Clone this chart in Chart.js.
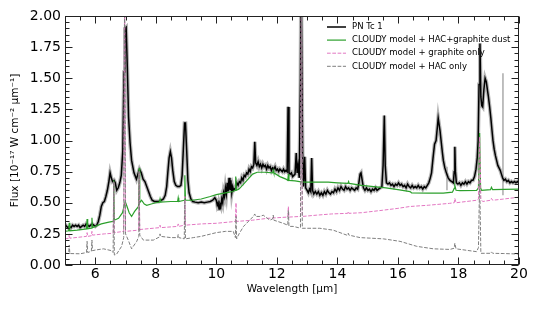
<!DOCTYPE html>
<html><head><meta charset="utf-8">
<script src="https://cdn.jsdelivr.net/npm/chart.js@4.4.0/dist/chart.umd.min.js"></script>
<style>html,body{margin:0;padding:0;background:#fff}</style>
</head><body>
<canvas id="c" width="540" height="309"></canvas>
<script>
// ---- data (wavelength in micron, flux in 1e-17 W cm^-2 micron^-1) ----
const wavelengthTicks = [6, 8, 10, 12, 14, 16, 18, 20];
const fluxTicks = [0, 0.25, 0.5, 0.75, 1.0, 1.25, 1.5, 1.75, 2.0];
const seriesLabels = ['PN Tc 1', 'CLOUDY model + HAC+graphite dust', 'CLOUDY model + graphite only', 'CLOUDY model + HAC only'];

const specTc1 = [
[5.00,0.33],[5.05,0.31],[5.10,0.30],[5.15,0.31],[5.20,0.30],[5.25,0.32],[5.30,0.31],[5.35,0.32],[5.40,0.31],[5.45,0.32],
[5.50,0.30],[5.55,0.31],[5.60,0.32],[5.65,0.31],[5.70,0.33],[5.75,0.32],[5.80,0.31],[5.85,0.32],[5.90,0.33],[5.95,0.32],
[6.00,0.31],[6.05,0.32],[6.10,0.35],[6.15,0.40],[6.20,0.47],[6.25,0.50],[6.30,0.51],[6.35,0.55],[6.40,0.60],[6.45,0.67],
[6.49,0.74],[6.53,0.70],[6.57,0.67],[6.62,0.68],[6.66,0.66],[6.71,0.60],[6.76,0.62],[6.81,0.66],[6.86,0.72],[6.91,0.92],
[6.95,1.55],[6.98,1.90],[7.02,1.91],[7.06,1.58],[7.10,1.19],[7.15,0.98],[7.20,0.84],[7.28,0.74],[7.36,0.69],[7.42,0.74],
[7.46,0.77],[7.52,0.74],[7.58,0.69],[7.64,0.67],[7.70,0.63],[7.76,0.59],[7.82,0.55],[7.88,0.52],[7.95,0.51],[8.02,0.51],
[8.10,0.51],[8.18,0.52],[8.25,0.53],[8.31,0.56],[8.36,0.63],[8.40,0.75],[8.44,0.86],[8.48,0.91],[8.52,0.86],[8.56,0.76],
[8.61,0.67],[8.66,0.64],[8.72,0.63],[8.78,0.63],[8.83,0.64],[8.87,0.72],[8.91,0.93],[8.95,1.14],[8.98,1.14],[9.02,0.92],
[9.06,0.68],[9.10,0.58],[9.16,0.53],[9.22,0.51],[9.30,0.505],[9.40,0.50],[9.50,0.505],[9.60,0.50],[9.70,0.505],[9.80,0.51],
[9.88,0.52],[9.95,0.54],[10.00,0.52],[10.03,0.48],[10.06,0.50],[10.09,0.45],[10.12,0.49],[10.15,0.47],[10.18,0.53],[10.21,0.50],
[10.24,0.58],[10.27,0.55],[10.30,0.62],[10.33,0.57],[10.36,0.66],[10.39,0.59],[10.42,0.70],[10.45,0.60],[10.48,0.68],[10.51,0.58],
[10.54,0.63],[10.57,0.60],[10.60,0.61],[10.64,0.62],[10.68,0.66],[10.72,0.64],[10.76,0.67],[10.80,0.66],[10.84,0.70],[10.88,0.68],
[10.92,0.72],[10.96,0.71],[11.00,0.74],[11.04,0.73],[11.08,0.77],[11.12,0.75],[11.16,0.79],[11.20,0.78],[11.24,0.81],[11.27,0.99],
[11.30,0.82],[11.34,0.80],[11.38,0.83],[11.42,0.79],[11.46,0.81],[11.50,0.78],[11.54,0.81],[11.58,0.79],[11.62,0.80],[11.66,0.77],
[11.70,0.80],[11.74,0.78],[11.78,0.79],[11.82,0.76],[11.86,0.78],[11.90,0.77],[11.94,0.79],[11.98,0.76],[12.02,0.77],[12.06,0.75],
[12.10,0.77],[12.14,0.76],[12.18,0.75],[12.22,0.77],[12.26,0.75],[12.30,0.76],[12.34,0.75],[12.37,1.27],[12.40,0.74],[12.44,0.73],
[12.48,0.74],[12.52,0.71],[12.56,0.72],[12.60,0.73],[12.64,0.90],[12.67,0.74],[12.70,0.80],[12.74,0.70],[12.78,1.50],[12.80,2.30],
[12.83,2.30],[12.85,0.90],[12.88,0.63],[12.92,0.87],[12.95,0.62],[13.00,0.60],[13.04,0.58],[13.08,0.61],[13.12,0.59],[13.15,0.86],
[13.18,0.60],[13.22,0.57],[13.27,0.59],[13.32,0.57],[13.37,0.59],[13.42,0.56],[13.47,0.58],[13.52,0.56],[13.57,0.59],[13.62,0.57],
[13.67,0.60],[13.72,0.58],[13.77,0.57],[13.82,0.59],[13.87,0.58],[13.92,0.61],[13.97,0.59],[14.02,0.62],[14.07,0.60],[14.12,0.63],
[14.17,0.61],[14.22,0.60],[14.27,0.63],[14.32,0.61],[14.37,0.62],[14.42,0.60],[14.47,0.62],[14.52,0.61],[14.57,0.60],[14.62,0.62],
[14.67,0.61],[14.71,0.66],[14.75,0.73],[14.78,0.74],[14.82,0.68],[14.86,0.62],[14.91,0.60],[14.96,0.62],[15.01,0.60],[15.06,0.61],
[15.11,0.59],[15.16,0.61],[15.21,0.60],[15.26,0.62],[15.31,0.60],[15.36,0.61],[15.42,0.62],[15.47,0.63],[15.51,0.80],[15.55,1.20],
[15.58,0.80],[15.62,0.66],[15.67,0.65],[15.72,0.66],[15.77,0.64],[15.82,0.65],[15.87,0.63],[15.92,0.65],[15.97,0.64],[16.02,0.66],
[16.07,0.64],[16.12,0.65],[16.17,0.63],[16.22,0.64],[16.27,0.62],[16.32,0.65],[16.37,0.63],[16.42,0.62],[16.47,0.64],[16.52,0.62],
[16.57,0.63],[16.62,0.62],[16.67,0.64],[16.72,0.62],[16.77,0.63],[16.82,0.61],[16.87,0.63],[16.92,0.62],[16.97,0.64],[17.02,0.66],
[17.07,0.70],[17.11,0.74],[17.16,0.86],[17.21,0.97],[17.26,1.00],[17.30,1.10],[17.33,1.18],[17.36,1.13],[17.39,1.08],[17.43,0.99],
[17.47,0.90],[17.50,0.84],[17.55,0.78],[17.60,0.74],[17.66,0.70],[17.72,0.68],[17.78,0.67],[17.83,0.66],[17.86,0.75],[17.88,0.95],
[17.90,0.75],[17.93,0.66],[17.98,0.65],[18.03,0.66],[18.08,0.64],[18.13,0.66],[18.18,0.65],[18.23,0.67],[18.28,0.65],[18.33,0.67],
[18.38,0.66],[18.43,0.68],[18.48,0.68],[18.53,0.71],[18.58,0.77],[18.62,0.86],[18.65,1.00],[18.68,1.45],[18.71,1.78],[18.74,1.35],
[18.77,1.28],[18.80,1.27],[18.84,1.41],[18.88,1.50],[18.92,1.47],[18.96,1.40],[18.99,1.35],[19.03,1.27],[19.07,1.18],[19.10,1.10],
[19.14,1.00],[19.18,0.93],[19.22,0.88],[19.26,0.84],[19.30,0.80],[19.34,0.78],[19.38,0.76],[19.42,0.73],[19.46,0.70],[19.50,0.68],
[19.55,0.69],[19.60,0.67],[19.65,0.68],[19.70,0.66],[19.75,0.67],[19.80,0.66],[19.85,0.67],[19.90,0.66],[19.95,0.67],[20.00,0.66]
];
// isolated uncertainty spikes of the spectrum: [wavelength, low, high]
const specErrSpikes = [[17.62, 0.60, 0.79], [19.47, 0.56, 1.54]];

const modelHacGraphite = [
[5.00,0.27],[5.12,0.275],[5.14,0.34],[5.16,0.275],[5.40,0.28],[5.71,0.29],[5.73,0.37],[5.75,0.29],[5.87,0.295],[5.89,0.38],
[5.91,0.30],[6.00,0.31],[6.20,0.33],[6.45,0.345],[6.59,0.35],[6.61,0.68],[6.63,0.36],[6.77,0.375],[6.90,0.42],[6.99,0.51],
[7.05,0.47],[7.12,0.42],[7.20,0.39],[7.30,0.43],[7.43,0.47],[7.45,0.78],[7.47,0.50],[7.53,0.52],[7.62,0.49],[7.70,0.48],
[7.85,0.49],[8.00,0.50],[8.12,0.505],[8.14,0.53],[8.16,0.505],[8.50,0.51],[8.72,0.51],[8.74,0.54],[8.76,0.51],[8.94,0.52],
[8.96,0.72],[8.98,0.52],[9.20,0.52],[9.50,0.53],[9.80,0.55],[10.00,0.565],[10.30,0.58],[10.55,0.59],[10.62,0.60],[10.64,0.71],
[10.66,0.60],[10.75,0.61],[10.90,0.65],[11.05,0.69],[11.20,0.73],[11.35,0.745],[11.60,0.745],[11.86,0.74],[11.88,0.76],[11.90,0.74],
[12.10,0.71],[12.30,0.69],[12.36,0.68],[12.38,0.73],[12.40,0.68],[12.60,0.675],[12.75,0.67],[12.90,0.665],[13.30,0.665],[13.70,0.665],
[14.00,0.66],[14.35,0.655],[14.37,0.67],[14.39,0.655],[14.80,0.64],[15.20,0.63],[15.60,0.62],[16.00,0.605],[16.40,0.59],[16.45,0.58],
[17.00,0.578],[17.50,0.578],[17.80,0.585],[17.86,0.615],[17.88,0.64],[17.92,0.60],[18.05,0.598],[18.60,0.60],[18.66,0.62],[18.70,1.06],
[18.73,0.62],[18.76,0.60],[19.06,0.605],[19.09,0.625],[19.13,0.605],[19.50,0.607],[20.00,0.61]
];

const modelGraphite = [
[5.00,0.21],[5.12,0.215],[5.14,0.25],[5.16,0.215],[5.71,0.23],[5.73,0.26],[5.75,0.23],[5.87,0.235],[5.89,0.27],[5.91,0.24],
[6.30,0.25],[6.59,0.255],[6.61,0.67],[6.63,0.26],[6.94,0.27],[6.97,2.30],[7.00,0.27],[7.43,0.28],[7.45,0.75],[7.47,0.285],
[8.12,0.30],[8.14,0.32],[8.16,0.30],[8.72,0.31],[8.74,0.33],[8.76,0.31],[8.94,0.32],[8.96,0.55],[8.98,0.32],[9.50,0.33],
[10.00,0.335],[10.63,0.35],[10.65,0.50],[10.67,0.35],[11.20,0.36],[11.70,0.375],[12.36,0.385],[12.38,0.47],[12.40,0.385],[12.78,0.39],
[12.81,2.30],[12.84,0.39],[13.30,0.40],[13.80,0.41],[14.34,0.415],[14.36,0.43],[14.38,0.415],[14.80,0.42],[15.50,0.44],[16.00,0.455],
[16.40,0.47],[17.00,0.48],[17.70,0.495],[17.86,0.50],[17.88,0.535],[17.92,0.50],[18.60,0.52],[18.66,0.53],[18.70,1.03],[18.74,0.53],
[18.80,0.51],[19.06,0.52],[19.09,0.535],[19.13,0.52],[19.50,0.53],[20.00,0.545]
];

const modelHac = [
[5.00,0.094],[5.12,0.092],[5.14,0.16],[5.16,0.092],[5.50,0.09],[5.71,0.10],[5.73,0.19],[5.75,0.10],[5.87,0.11],[5.89,0.20],
[5.91,0.115],[6.00,0.12],[6.27,0.13],[6.54,0.115],[6.59,0.10],[6.61,0.67],[6.63,0.08],[6.70,0.085],[6.87,0.15],[6.94,0.22],
[6.97,2.30],[7.00,0.25],[7.09,0.20],[7.20,0.13],[7.37,0.19],[7.44,0.23],[7.45,0.75],[7.47,0.24],[7.59,0.20],[7.92,0.20],
[8.12,0.225],[8.14,0.25],[8.16,0.23],[8.50,0.22],[8.72,0.22],[8.74,0.245],[8.76,0.22],[8.94,0.21],[8.96,0.52],[8.98,0.21],
[9.24,0.22],[9.50,0.23],[10.00,0.26],[10.30,0.27],[10.56,0.27],[10.63,0.22],[10.65,0.39],[10.67,0.21],[10.75,0.25],[10.90,0.31],
[11.10,0.36],[11.22,0.39],[11.27,0.41],[11.30,0.39],[11.44,0.39],[11.55,0.40],[11.77,0.36],[11.86,0.37],[11.88,0.40],[11.90,0.36],
[12.21,0.335],[12.36,0.32],[12.38,0.44],[12.40,0.31],[12.54,0.31],[12.71,0.30],[12.78,0.30],[12.81,2.30],[12.84,0.295],[12.98,0.295],
[13.42,0.295],[13.86,0.28],[14.31,0.24],[14.34,0.24],[14.36,0.255],[14.38,0.24],[14.75,0.22],[15.52,0.21],[16.07,0.19],[16.62,0.15],
[17.17,0.13],[17.72,0.125],[17.86,0.135],[17.88,0.175],[17.92,0.13],[18.60,0.107],[18.66,0.14],[18.70,0.68],[18.74,0.094],[19.06,0.094],
[19.09,0.105],[19.13,0.094],[19.50,0.092],[20.00,0.088]
];

// ---- chart ----
const toXY = arr => arr.map(p => ({x: p[0], y: p[1]}));
const FONT = "'DejaVu Sans', sans-serif";
const FRAME = '#222';

const datasets = [
  {label: 'PN Tc 1 uncertainty', data: toXY(specTc1), borderColor: '#b5b5b5', borderWidth: 3.8, order: 20, legend: false},
  ...specErrSpikes.map(s => ({label: 'PN Tc 1 uncertainty', data: [{x: s[0], y: s[1]}, {x: s[0], y: s[2]}],
      borderColor: '#aaaaaa', borderWidth: 1.5, order: 19, legend: false})),
  {label: seriesLabels[0], data: toXY(specTc1), borderColor: '#000000', borderWidth: 1.5, order: 10, legend: true},
  {label: seriesLabels[1], data: toXY(modelHacGraphite), borderColor: '#2ca02c', borderWidth: 1.2, order: 9, legend: true},
  {label: seriesLabels[2], data: toXY(modelGraphite), borderColor: '#e377c2', borderWidth: 1.0, borderDash: [3.7, 1.6], order: 8, legend: true},
  {label: seriesLabels[3], data: toXY(modelHac), borderColor: '#7f7f7f', borderWidth: 1.0, borderDash: [3.7, 1.6], order: 7, legend: true}
];
datasets.forEach(d => { d.pointRadius = 0; d.tension = 0; d.fill = false; });

const frameTicks = {
  id: 'frameTicks',
  afterDraw(chart) {
    const {ctx, chartArea: a, scales: {x, y}} = chart;
    ctx.save();
    ctx.strokeStyle = FRAME;
    ctx.lineWidth = 1;
    const L = Math.round(a.left) + 0.5, R = Math.round(a.right) - 0.5,
          T = Math.round(a.top) + 0.5, B = Math.round(a.bottom) - 0.5;
    ctx.strokeRect(L, T, R - L, B - T);
    const seg = (x1, y1, x2, y2) => { ctx.beginPath(); ctx.moveTo(x1, y1); ctx.lineTo(x2, y2); ctx.stroke(); };
    const nx = Math.round((x.max - x.min) / 0.5);
    for (let i = 0; i <= nx; i++) {
      const v = x.min + i * 0.5;
      const major = wavelengthTicks.some(t => Math.abs(t - v) < 1e-6);
      const len = major ? 7 : 4;
      const px = Math.round(x.getPixelForValue(v)) + 0.5;
      seg(px, B, px, B - len); seg(px, T, px, T + len);
    }
    const ny = Math.round((y.max - y.min) / 0.05);
    for (let i = 0; i <= ny; i++) {
      const v = y.min + i * 0.05;
      const major = fluxTicks.some(t => Math.abs(t - v) < 1e-6);
      const len = major ? 7 : 4;
      const py = Math.round(y.getPixelForValue(v)) + 0.5;
      seg(L, py, L + len, py); seg(R, py, R - len, py);
    }
    // legend
    const items = chart.data.datasets.filter(d => d.legend);
    ctx.font = "8.5px " + FONT;
    ctx.textBaseline = 'middle';
    ctx.fillStyle = '#000';
    items.forEach((d, i) => {
      const yy = 27 + i * 13.1;
      ctx.strokeStyle = d.borderColor;
      ctx.lineWidth = d.borderWidth;
      ctx.setLineDash(d.borderDash || []);
      seg(327, yy, 346, yy);
      ctx.setLineDash([]);
      ctx.fillText(d.label, 352, yy);
    });
    ctx.restore();
  }
};

new Chart(document.getElementById('c'), {
  type: 'line',
  data: {datasets},
  plugins: [frameTicks],
  options: {
    responsive: false,
    devicePixelRatio: 1,
    animation: false,
    layout: {padding: {top: 16, right: 21, left: 0, bottom: 0}},
    plugins: {legend: {display: false}, tooltip: {enabled: false}},
    scales: {
      x: {
        type: 'linear', min: 5, max: 20,
        afterBuildTicks: s => { s.ticks = wavelengthTicks.map(v => ({value: v})); },
        afterFit: s => { s.height = 44; },
        grid: {display: false, drawTicks: false},
        border: {display: false},
        ticks: {color: '#000', font: {family: FONT, size: 14}, padding: 1, maxRotation: 0, autoSkip: false},
        title: {display: true, text: 'Wavelength [μm]', color: '#000', font: {family: FONT, size: 10.5}, padding: {top: 0, bottom: 13}}
      },
      y: {
        type: 'linear', min: 0, max: 2,
        afterBuildTicks: s => { s.ticks = fluxTicks.map(v => ({value: v})); },
        afterFit: s => { s.width = 65; },
        grid: {display: false, drawTicks: false},
        border: {display: false},
        ticks: {color: '#000', font: {family: FONT, size: 14}, padding: 4, autoSkip: false, callback: v => Number(v).toFixed(2)},
        title: {display: true, text: 'Flux [10⁻¹⁷ W cm⁻² μm⁻¹]', color: '#000', font: {family: FONT, size: 10.5}, padding: {top: 9, bottom: 0}}
      }
    }
  }
});
</script>
</body></html>
